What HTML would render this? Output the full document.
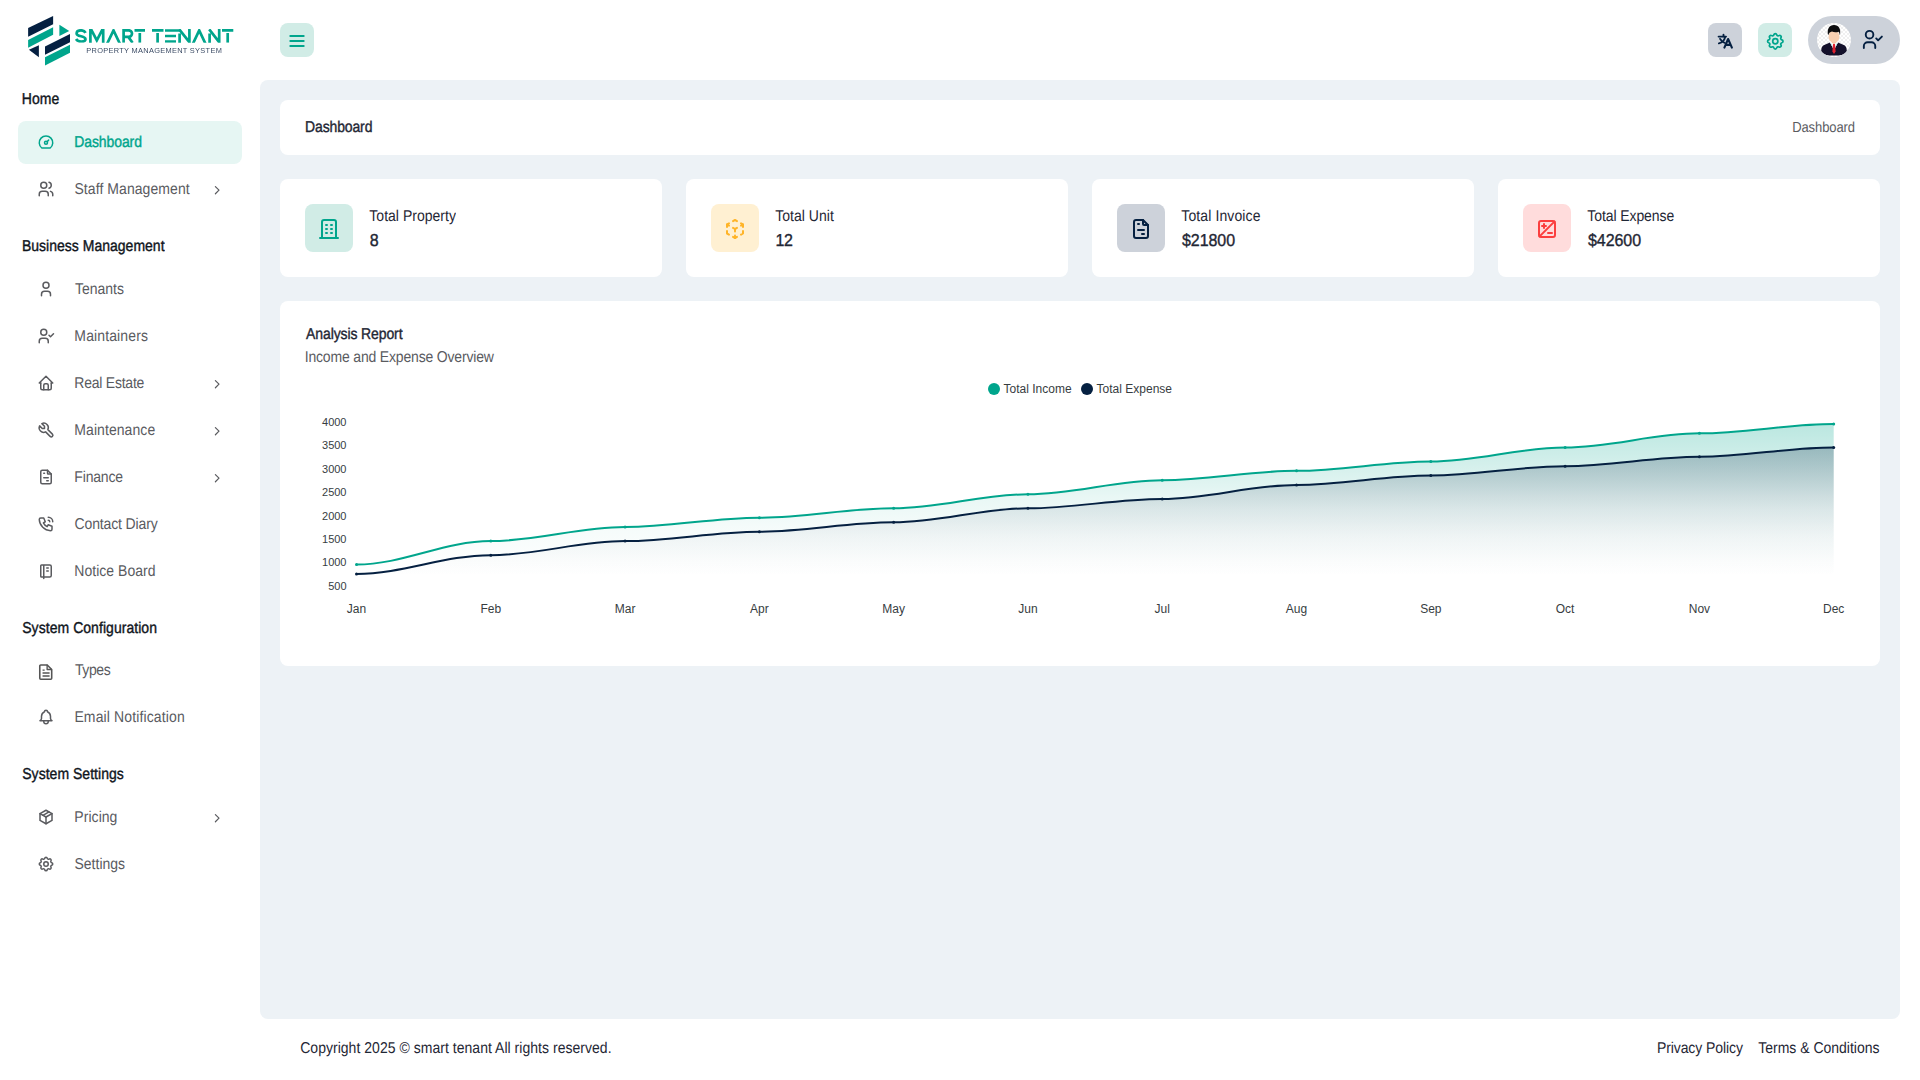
<!DOCTYPE html>
<html lang="en"><head><meta charset="utf-8"><title>Dashboard - Smart Tenant</title>
<style>
*{box-sizing:border-box;margin:0;padding:0}
html,body{width:1920px;height:1080px;overflow:hidden;background:#fff}
body{font-family:"Liberation Sans",sans-serif;font-size:14px;color:#1f2735;position:relative;-webkit-font-smoothing:antialiased}
a{text-decoration:none;color:inherit}
h1,h2,h3,p{font-weight:normal;font-size:inherit}
.abs{position:absolute}
.t{position:absolute;white-space:nowrap;line-height:1;text-rendering:geometricPrecision}
.med{-webkit-text-stroke:0.35px currentColor}
.sidebar{position:absolute;left:0;top:0;width:260px;height:1080px;background:#fff}
.sec{color:#10151c}
.item{position:absolute;left:18px;width:224px;height:43px;border-radius:8px;color:#5a5b5f}
.item.active{background:#e6f6f3;color:#00a58c}
.item svg.ic{position:absolute;left:19.3px;top:12.2px;width:18px;height:18px;overflow:visible}
.item svg.chev{position:absolute;left:191.7px;top:14.8px;width:14.4px;height:14.4px}
.header{position:absolute;left:260px;top:0;width:1660px;height:80px;background:#fff}
.hbtn{position:absolute;top:23px;width:34px;height:34px;border-radius:8px}
.panel{position:absolute;left:260px;top:80px;width:1640px;height:939px;background:#edf2f6;border-radius:8px}
.box{position:absolute;background:#fff;border-radius:8px}
.ibox{position:absolute;left:25px;top:25px;width:48px;height:48px;border-radius:8px}
.footer{position:absolute;left:260px;top:1019px;width:1660px;height:61px;background:#fff;color:#1f2735}
</style></head>
<body>
<aside class="sidebar">
<svg class="abs" style="left:0;top:0;width:260px;height:80px" viewBox="0 0 260 80" aria-label="Smart Tenant">
<g fill="#052041">
<path d="M28.1 28.1L53.1 16v8.2L28.1 36.7z"/>
<path d="M28.9 49.7l10-4.4v11.9z"/>
<path d="M45 46.4l25-12.5v8.3L45 54.7z"/>
</g>
<g fill="#00a58c">
<path d="M28.1 40L53.1 27.2v7.5L28.1 47.8z"/>
<path d="M59.4 24.7l9.8 6.4-9.8 5z"/>
<path d="M45 57.2l25-12.5v8.1L45 65.6z"/>
</g>
<defs><clipPath id="wm"><rect x="70" y="29" width="170" height="13.8"/></clipPath></defs>
<g fill="none" stroke="#00a58c" stroke-width="2.7" stroke-linejoin="miter" stroke-miterlimit="6" clip-path="url(#wm)">
<path d="M85.6 32.9C84.8 31.2 83.2 30.3 81 30.3 78.300 30.3 76.600 31.600 76.600 33.400 76.600 37.300 85.500 35.300 85.500 39.200 85.500 40.800 83.700 41.500 81.100 41.500 78.800 41.500 77.100 40.700 76.100 39"/>
<path d="M90.400 44V28L96.800 40.400L103.200 28V44"/>
<path d="M107 44L113.500 30.400L120 44"/>
<path d="M123.6 42.8V30.3H128.700A3.300 3.300 0 0 1 128.700 36.900H123.600M128.300 36.900L132.600 42.800"/>
<path d="M134.500 30.400H145M139.800 33V42.800"/>
<path d="M152 30.400H163.500M157.600 33V42.800"/>
<path d="M165 30.500H180.500M165 36H176M165 41.500H176"/>
<path d="M179.600 33.500V44M179.200 29.300L189.400 42.200M189.400 28V44"/>
<path d="M192.800 44L199.200 30.400L205.600 44"/>
<path d="M209.600 33.500V44M209.200 29.300L219.200 42.200M219.200 28V44"/>
<path d="M222 30.400H233.300M227.700 33V42.800"/>
</g>
<text style="will-change:transform" x="86.300" y="52.700" font-family="Liberation Sans, sans-serif" font-size="7.400" fill="#1d2f4d" opacity="0.9" textLength="135.500" lengthAdjust="spacing">PROPERTY MANAGEMENT SYSTEM</text>
</svg>

<nav>
<div id="sec_home" class="t med sec" style="left:21.76px;top:92.00px;font-size:14px;color:#10151c;transform:scaleY(1.120);transform-origin:0 12px;letter-spacing:0.047px;">Home</div>
<a class="item active" style="top:121px"><svg class="ic" viewBox="0 0 24 24" fill="none" stroke="currentColor" stroke-width="2" stroke-linecap="round" stroke-linejoin="round" ><path d="M12 13m-2 0a2 2 0 1 0 4 0a2 2 0 1 0 -4 0"/><path d="M13.45 11.55l2.05 -2.05"/><path d="M6.4 20a9 9 0 1 1 11.2 0z"/></svg><span id="m_dash" class="t med" style="left:56.27px;top:14.00px;font-size:14px;color:#00a58c;transform:scaleY(1.120);transform-origin:0 12px;letter-spacing:-0.099px;">Dashboard</span></a>
<a class="item" style="top:168px"><svg class="ic" viewBox="0 0 24 24" fill="none" stroke="currentColor" stroke-width="2" stroke-linecap="round" stroke-linejoin="round" ><path d="M9 7m-4 0a4 4 0 1 0 8 0a4 4 0 1 0 -8 0"/><path d="M3 21v-2a4 4 0 0 1 4 -4h4a4 4 0 0 1 4 4v2"/><path d="M16 3.130a4 4 0 0 1 0 7.750"/><path d="M21 21v-2a4 4 0 0 0 -3 -3.850"/></svg><span id="m_staff" class="t " style="left:56.47px;top:14.00px;font-size:14px;color:#5a5b5f;transform:scaleY(1.120);transform-origin:0 12px;letter-spacing:0.067px;">Staff Management</span><svg class="chev" viewBox="0 0 24 24" fill="none" stroke="currentColor" stroke-width="2" stroke-linecap="round" stroke-linejoin="round" ><path d="M9 6l6 6l-6 6"/></svg></a>
<div id="sec_bus" class="t med sec" style="left:21.97px;top:239.00px;font-size:14px;color:#10151c;transform:scaleY(1.120);transform-origin:0 12px;letter-spacing:0.008px;">Business Management</div>
<a class="item" style="top:268px"><svg class="ic" viewBox="0 0 24 24" fill="none" stroke="currentColor" stroke-width="2" stroke-linecap="round" stroke-linejoin="round" ><path d="M12 7m-4 0a4 4 0 1 0 8 0a4 4 0 1 0 -8 0"/><path d="M6 21v-2a4 4 0 0 1 4 -4h4a4 4 0 0 1 4 4v2"/></svg><span id="m_ten" class="t " style="left:56.90px;top:14.00px;font-size:14px;color:#5a5b5f;transform:scaleY(1.120);transform-origin:0 12px;">Tenants</span></a>
<a class="item" style="top:315px"><svg class="ic" viewBox="0 0 24 24" fill="none" stroke="currentColor" stroke-width="2" stroke-linecap="round" stroke-linejoin="round" ><path d="M9 7m-4 0a4 4 0 1 0 8 0a4 4 0 1 0 -8 0"/><path d="M3 21v-2a4 4 0 0 1 4 -4h4a4 4 0 0 1 4 4v2"/><path d="M16 11l2 2l4 -4"/></svg><span id="m_main" class="t " style="left:56.35px;top:14.00px;font-size:14px;color:#5a5b5f;transform:scaleY(1.120);transform-origin:0 12px;letter-spacing:0.120px;">Maintainers</span></a>
<a class="item" style="top:362px"><svg class="ic" viewBox="0 0 24 24" fill="none" stroke="currentColor" stroke-width="2" stroke-linecap="round" stroke-linejoin="round" ><path d="M5 12l-2 0l9 -9l9 9l-2 0"/><path d="M5 12v7a2 2 0 0 0 2 2h10a2 2 0 0 0 2 -2v-7"/><path d="M9 21v-6a2 2 0 0 1 2 -2h2a2 2 0 0 1 2 2v6"/></svg><span id="m_real" class="t " style="left:56.32px;top:14.00px;font-size:14px;color:#5a5b5f;transform:scaleY(1.120);transform-origin:0 12px;letter-spacing:-0.235px;">Real Estate</span><svg class="chev" viewBox="0 0 24 24" fill="none" stroke="currentColor" stroke-width="2" stroke-linecap="round" stroke-linejoin="round" ><path d="M9 6l6 6l-6 6"/></svg></a>
<a class="item" style="top:409px"><svg class="ic" viewBox="0 0 24 24" fill="none" stroke="currentColor" stroke-width="2" stroke-linecap="round" stroke-linejoin="round" ><path d="M7 10h3v-3l-3.500 -3.500a6 6 0 0 1 8 8l6 6a2 2 0 0 1 -3 3l-6 -6a6 6 0 0 1 -8 -8l3.500 3.500"/></svg><span id="m_mnt" class="t " style="left:56.35px;top:14.00px;font-size:14px;color:#5a5b5f;transform:scaleY(1.120);transform-origin:0 12px;letter-spacing:0.067px;">Maintenance</span><svg class="chev" viewBox="0 0 24 24" fill="none" stroke="currentColor" stroke-width="2" stroke-linecap="round" stroke-linejoin="round" ><path d="M9 6l6 6l-6 6"/></svg></a>
<a class="item" style="top:456px"><svg class="ic" viewBox="0 0 24 24" fill="none" stroke="currentColor" stroke-width="2" stroke-linecap="round" stroke-linejoin="round" ><path d="M14 3v4a1 1 0 0 0 1 1h4"/><path d="M17 21h-10a2 2 0 0 1 -2 -2v-14a2 2 0 0 1 2 -2h7l5 5v11a2 2 0 0 1 -2 2z"/><path d="M9 7l1 0"/><path d="M9 13l6 0"/><path d="M13 17l2 0"/></svg><span id="m_fin" class="t " style="left:56.35px;top:14.00px;font-size:14px;color:#5a5b5f;transform:scaleY(1.120);transform-origin:0 12px;letter-spacing:-0.183px;">Finance</span><svg class="chev" viewBox="0 0 24 24" fill="none" stroke="currentColor" stroke-width="2" stroke-linecap="round" stroke-linejoin="round" ><path d="M9 6l6 6l-6 6"/></svg></a>
<a class="item" style="top:503px"><svg class="ic" viewBox="0 0 24 24" fill="none" stroke="currentColor" stroke-width="2" stroke-linecap="round" stroke-linejoin="round" ><path d="M5 4h4l2 5l-2.500 1.500a11 11 0 0 0 5 5l1.500 -2.500l5 2v4a2 2 0 0 1 -2 2a16 16 0 0 1 -15 -15a2 2 0 0 1 2 -2"/><path d="M15 7a2 2 0 0 1 2 2"/><path d="M15 3a6 6 0 0 1 6 6"/></svg><span id="m_con" class="t " style="left:56.60px;top:14.00px;font-size:14px;color:#5a5b5f;transform:scaleY(1.120);transform-origin:0 12px;letter-spacing:-0.146px;">Contact Diary</span></a>
<a class="item" style="top:550px"><svg class="ic" viewBox="0 0 24 24" fill="none" stroke="currentColor" stroke-width="2" stroke-linecap="round" stroke-linejoin="round" ><path d="M6 4h11a2 2 0 0 1 2 2v12a2 2 0 0 1 -2 2h-11a1 1 0 0 1 -1 -1v-14a1 1 0 0 1 1 -1m3 0v18"/><path d="M13 8l2 0"/><path d="M13 12l2 0"/></svg><span id="m_not" class="t " style="left:56.36px;top:14.00px;font-size:14px;color:#5a5b5f;transform:scaleY(1.120);transform-origin:0 12px;letter-spacing:0.016px;">Notice Board</span></a>
<div id="sec_cfg" class="t med sec" style="left:22.24px;top:621.00px;font-size:14px;color:#10151c;transform:scaleY(1.120);transform-origin:0 12px;letter-spacing:0.047px;">System Configuration</div>
<a class="item" style="top:649px"><svg class="ic" viewBox="0 0 24 24" fill="none" stroke="currentColor" stroke-width="2" stroke-linecap="round" stroke-linejoin="round" style="left:19.3px;top:14.4px"><g stroke="#555" stroke-width="2.100" stroke-linejoin="round"><path d="M5 2.600h8.600l6 6v11.800a1.300 1.300 0 0 1 -1.300 1.300h-13.300a1.300 1.300 0 0 1 -1.300 -1.300v-16.500a1.300 1.300 0 0 1 1.300 -1.300z"/><path d="M13.500 3v5.700h5.700" stroke-width="1.800"/><path d="M7.400 13.300h9.400M7.400 17.300h9.400M7.400 9.500h2.800" stroke-width="1.800" stroke-linecap="butt"/></g></svg><span id="m_typ" class="t " style="left:56.90px;top:14.00px;font-size:14px;color:#5a5b5f;transform:scaleY(1.120);transform-origin:0 12px;letter-spacing:-0.395px;">Types</span></a>
<a class="item" style="top:696px"><svg class="ic" viewBox="0 0 24 24" fill="none" stroke="currentColor" stroke-width="2" stroke-linecap="round" stroke-linejoin="round" ><path d="M10 5a2 2 0 1 1 4 0a7 7 0 0 1 4 6v3a4 4 0 0 0 2 3h-16a4 4 0 0 0 2 -3v-3a7 7 0 0 1 4 -6"/><path d="M9 17v1a3 3 0 0 0 6 0v-1"/></svg><span id="m_eml" class="t " style="left:56.39px;top:14.00px;font-size:14px;color:#5a5b5f;transform:scaleY(1.120);transform-origin:0 12px;letter-spacing:0.127px;">Email Notification</span></a>
<div id="sec_set" class="t med sec" style="left:22.24px;top:767.00px;font-size:14px;color:#10151c;transform:scaleY(1.120);transform-origin:0 12px;letter-spacing:0.027px;">System Settings</div>
<a class="item" style="top:796px"><svg class="ic" viewBox="0 0 24 24" fill="none" stroke="currentColor" stroke-width="2" stroke-linecap="round" stroke-linejoin="round" ><path d="M12 3l8 4.500l0 9l-8 4.500l-8 -4.500l0 -9l8 -4.500"/><path d="M12 12l8 -4.500"/><path d="M12 12l0 9"/><path d="M12 12l-8 -4.500"/><path d="M16 5.250l-8 4.500"/></svg><span id="m_pri" class="t " style="left:56.35px;top:14.00px;font-size:14px;color:#5a5b5f;transform:scaleY(1.120);transform-origin:0 12px;letter-spacing:0.044px;">Pricing</span><svg class="chev" viewBox="0 0 24 24" fill="none" stroke="currentColor" stroke-width="2" stroke-linecap="round" stroke-linejoin="round" ><path d="M9 6l6 6l-6 6"/></svg></a>
<a class="item" style="top:843px"><svg class="ic" viewBox="0 0 24 24" fill="none" stroke="currentColor" stroke-width="2" stroke-linecap="round" stroke-linejoin="round" ><path d="M10.325 4.317c.426 -1.756 2.924 -1.756 3.350 0a1.724 1.724 0 0 0 2.573 1.066c1.543 -.940 3.310 .826 2.370 2.370a1.724 1.724 0 0 0 1.065 2.572c1.756 .426 1.756 2.924 0 3.350a1.724 1.724 0 0 0 -1.066 2.573c.940 1.543 -.826 3.310 -2.370 2.370a1.724 1.724 0 0 0 -2.572 1.065c-.426 1.756 -2.924 1.756 -3.350 0a1.724 1.724 0 0 0 -2.573 -1.066c-1.543 .940 -3.310 -.826 -2.370 -2.370a1.724 1.724 0 0 0 -1.065 -2.572c-1.756 -.426 -1.756 -2.924 0 -3.350a1.724 1.724 0 0 0 1.066 -2.573c-.940 -1.543 .826 -3.310 2.370 -2.370c1 .608 2.296 .070 2.572 -1.065z"/><path d="M9 12a3 3 0 1 0 6 0a3 3 0 0 0 -6 0"/></svg><span id="m_stg" class="t " style="left:56.47px;top:14.00px;font-size:14px;color:#5a5b5f;transform:scaleY(1.120);transform-origin:0 12px;letter-spacing:0.002px;">Settings</span></a>
</nav></aside>
<header class="header">
<div class="hbtn" style="left:20px;background:#d1ece6;color:#00a58c"><svg class="abs" viewBox="0 0 24 24" fill="none" stroke="currentColor" stroke-width="2.4" stroke-linecap="round" stroke-linejoin="round" style="left:7.450px;top:8.050px;width:20px;height:20px"><path d="M4 6l16 0"/><path d="M4 12l16 0"/><path d="M4 18l16 0"/></svg></div>
<div class="hbtn" style="left:1448px;background:#cdd2da;color:#052041"><svg class="abs" style="left:0;top:0;width:34px;height:34px" viewBox="0 0 34 34"><g fill="none" stroke="currentColor" stroke-width="1.9" stroke-linecap="round" stroke-linejoin="round"><path d="M10.600 13.600H18"/><path d="M15.500 11.700V13.400"/><path d="M17.200 13.900C16.500 17.100 14.200 19.500 10.900 20.400"/><path d="M12.100 15.900C13 17.700 14.700 19.100 16.700 19.800"/><path d="M16.400 24.600L20.100 16L23.900 24.600M17.900 21.900H22.300" stroke-width="2.100"/></g></svg></div>
<div class="hbtn" style="left:1498px;background:#d1ece6;color:#00a58c"><svg class="abs" viewBox="0 0 24 24" fill="none" stroke="currentColor" stroke-width="2" stroke-linecap="round" stroke-linejoin="round" style="left:7.100px;top:7.500px;width:20.600px;height:20.600px"><path d="M10.325 4.317c.426 -1.756 2.924 -1.756 3.350 0a1.724 1.724 0 0 0 2.573 1.066c1.543 -.940 3.310 .826 2.370 2.370a1.724 1.724 0 0 0 1.065 2.572c1.756 .426 1.756 2.924 0 3.350a1.724 1.724 0 0 0 -1.066 2.573c.940 1.543 -.826 3.310 -2.370 2.370a1.724 1.724 0 0 0 -2.572 1.065c-.426 1.756 -2.924 1.756 -3.350 0a1.724 1.724 0 0 0 -2.573 -1.066c-1.543 .940 -3.310 -.826 -2.370 -2.370a1.724 1.724 0 0 0 -1.065 -2.572c-1.756 -.426 -1.756 -2.924 0 -3.350a1.724 1.724 0 0 0 1.066 -2.573c-.940 -1.543 .826 -3.310 2.370 -2.370c1 .608 2.296 .070 2.572 -1.065z"/><path d="M9 12a3 3 0 1 0 6 0a3 3 0 0 0 -6 0"/></svg></div>
<div class="abs" style="left:1548px;top:16px;width:92px;height:48px;border-radius:24px;background:#cdd2da;color:#052041">
<svg class="abs" style="left:9px;top:7px;width:34px;height:34px" viewBox="0 0 34 34">
<defs><clipPath id="avc"><circle cx="17" cy="17" r="17"/></clipPath>
<pattern id="chk" width="4" height="4" patternUnits="userSpaceOnUse"><rect width="4" height="4" fill="#fff"/><rect width="2" height="2" fill="#f0f0f0"/><rect x="2" y="2" width="2" height="2" fill="#f0f0f0"/></pattern></defs>
<g clip-path="url(#avc)">
<rect width="34" height="34" fill="url(#chk)"/>
<path d="M13 19.600L7.200 22C5.200 22.800 4.400 24.500 4.200 27.500C4.100 30.200 8 32.400 12.500 32.400H21.500C26 32.400 29.900 30.200 29.800 27.500C29.600 24.500 28.800 22.800 26.800 22L21 19.600L17 27Z" fill="#14112b"/>
<path d="M13 19.500L16.900 26.800L20.900 19.500L17 18Z" fill="#fff"/>
<path d="M13 19.500L14.300 20.700L16.300 25.700ZM20.900 19.500L19.600 20.700L17.600 25.700Z" fill="#7fd6dc"/>
<path d="M16 20.900H18L18.600 28.600L17 30.900L15.400 28.600Z" fill="#e0212f"/>
<path d="M14.600 16H19.400V19.600L17 21.200L14.600 19.600Z" fill="#f1c3a2"/>
<ellipse cx="17" cy="13.600" rx="5.450" ry="6.200" fill="#f8cfb0"/>
<path d="M11.100 12.300C9.700 6 12.400 2 17 2C21.700 2 24.300 6 22.900 12.300C22.600 10.300 22.200 9.300 21.500 8.700C19.300 9.600 16.500 9.300 15 8.400C13.200 8.900 12 9.600 11.100 12.300Z" fill="#0c0c0e"/>
</g></svg>

<svg class="abs" viewBox="0 0 24 24" fill="none" stroke="currentColor" stroke-width="2" stroke-linecap="round" stroke-linejoin="round" style="left:53.050px;top:11.850px;width:22.800px;height:22.800px"><path d="M9 7m-4 0a4 4 0 1 0 8 0a4 4 0 1 0 -8 0"/><path d="M3 21v-2a4 4 0 0 1 4 -4h4a4 4 0 0 1 4 4v2"/><path d="M16 11l2 2l4 -4"/></svg>
</div></header>
<main class="panel">
<section class="box" style="left:20px;top:20px;width:1600px;height:55px"><h1 id="title" class="t med" style="left:25.05px;top:20.00px;font-size:14px;color:#1f2735;transform:scaleY(1.120);transform-origin:0 12px;letter-spacing:-0.139px;">Dashboard</h1><span id="crumb" class="t " style="left:1512.18px;top:21.00px;font-size:13px;color:#5a5b5f;transform:scaleY(1.120);transform-origin:0 11px;letter-spacing:-0.085px;">Dashboard</span></section>
<section class="box" style="left:20px;top:99px;width:382px;height:98px"><div class="ibox" style="background:#d1ece6;color:#00a58c"><svg class="abs" viewBox="0 0 24 24" fill="none" stroke="currentColor" stroke-width="2" stroke-linecap="round" stroke-linejoin="round" style="left:12px;top:13px;width:24px;height:24px"><path d="M3 21l18 0"/><path d="M9 8l1 0"/><path d="M9 12l1 0"/><path d="M9 16l1 0"/><path d="M14 8l1 0"/><path d="M14 12l1 0"/><path d="M14 16l1 0"/><path d="M5 21v-16a2 2 0 0 1 2 -2h10a2 2 0 0 1 2 2v16"/></svg></div><p id="c1_l" class="t " style="left:89.32px;top:30.00px;font-size:14px;color:#1f2735;transform:scaleY(1.120);transform-origin:0 12px;letter-spacing:0.022px;">Total Property</p><h2 id="c1_v" class="t med" style="left:89.63px;top:55.00px;font-size:16px;color:#1f2735;transform:scaleY(1.080);transform-origin:0 13px;letter-spacing:-4.759px;">8</h2></section>
<section class="box" style="left:426px;top:99px;width:382px;height:98px"><div class="ibox" style="background:#fff0d2;color:#ffb428"><svg class="abs" viewBox="0 0 24 24" fill="none" stroke="currentColor" stroke-width="2" stroke-linecap="round" stroke-linejoin="round" style="left:12px;top:13px;width:24px;height:24px"><path d="M6 17.600l-2 -1.100v-2.500"/><path d="M4 10v-2.500l2 -1.100"/><path d="M10 4.100l2 -1.100l2 1.100"/><path d="M18 6.400l2 1.100v2.500"/><path d="M20 14v2.500l-2 1.120"/><path d="M14 19.900l-2 1.100l-2 -1.100"/><path d="M12 12l2 -1.100"/><path d="M18 8.600l2 -1.100"/><path d="M12 12l0 2.500"/><path d="M12 18.500l0 2.500"/><path d="M12 12l-2 -1.120"/><path d="M6 8.600l-2 -1.100"/></svg></div><p id="c2_l" class="t " style="left:89.32px;top:30.00px;font-size:14px;color:#1f2735;transform:scaleY(1.120);transform-origin:0 12px;letter-spacing:0.013px;">Total Unit</p><h2 id="c2_v" class="t med" style="left:89.46px;top:55.00px;font-size:16px;color:#1f2735;transform:scaleY(1.080);transform-origin:0 13px;letter-spacing:-0.323px;">12</h2></section>
<section class="box" style="left:832px;top:99px;width:382px;height:98px"><div class="ibox" style="background:#cdd2da;color:#052041"><svg class="abs" viewBox="0 0 24 24" fill="none" stroke="currentColor" stroke-width="2" stroke-linecap="round" stroke-linejoin="round" style="left:12px;top:13px;width:24px;height:24px"><path d="M14 3v4a1 1 0 0 0 1 1h4"/><path d="M17 21h-10a2 2 0 0 1 -2 -2v-14a2 2 0 0 1 2 -2h7l5 5v11a2 2 0 0 1 -2 2z"/><path d="M9 7l1 0"/><path d="M9 13l6 0"/><path d="M13 17l2 0"/></svg></div><p id="c3_l" class="t " style="left:89.32px;top:30.00px;font-size:14px;color:#1f2735;transform:scaleY(1.120);transform-origin:0 12px;letter-spacing:0.109px;">Total Invoice</p><h2 id="c3_v" class="t med" style="left:89.96px;top:55.00px;font-size:16px;color:#1f2735;transform:scaleY(1.080);transform-origin:0 13px;letter-spacing:-0.059px;">$21800</h2></section>
<section class="box" style="left:1238px;top:99px;width:382px;height:98px"><div class="ibox" style="background:#ffdcdc;color:#fb3f3f"><svg class="abs" viewBox="0 0 24 24" fill="none" stroke="currentColor" stroke-width="2" stroke-linecap="round" stroke-linejoin="round" style="left:12px;top:13px;width:24px;height:24px"><path d="M4 6a2 2 0 0 1 2 -2h12a2 2 0 0 1 2 2v12a2 2 0 0 1 -2 2h-12a2 2 0 0 1 -2 -2z"/><path d="M4.600 19.400l14.800 -14.800"/><path d="M7 9h4m-2 -2v4"/><path d="M13 16l4 0"/></svg></div><p id="c4_l" class="t " style="left:89.32px;top:30.00px;font-size:14px;color:#1f2735;transform:scaleY(1.120);transform-origin:0 12px;letter-spacing:-0.087px;">Total Expense</p><h2 id="c4_v" class="t med" style="left:89.96px;top:55.00px;font-size:16px;color:#1f2735;transform:scaleY(1.080);transform-origin:0 13px;letter-spacing:-0.059px;">$42600</h2></section>
<section class="box" style="left:20px;top:221px;width:1600px;height:365px"><h2 id="ch_t" class="t med" style="left:26.08px;top:26.00px;font-size:14px;color:#1f2735;transform:scaleY(1.120);transform-origin:0 12px;letter-spacing:-0.112px;">Analysis Report</h2><p id="ch_s" class="t " style="left:24.69px;top:49.00px;font-size:14px;color:#5a5b5f;transform:scaleY(1.120);transform-origin:0 12px;letter-spacing:-0.174px;">Income and Expense Overview</p><svg class="abs" style="left:0;top:0;width:1600px;height:365px" viewBox="280 301 1600 365" font-family="Liberation Sans, sans-serif" text-rendering="auto">
<defs>
<linearGradient id="gi" x1="0" y1="0" x2="0" y2="1"><stop offset="0" stop-color="#00a58c" stop-opacity="0.2700"/><stop offset="0.45" stop-color="#00a58c" stop-opacity="0.0891"/><stop offset="0.65" stop-color="#00a58c" stop-opacity="0.0378"/><stop offset="0.83" stop-color="#00a58c" stop-opacity="0.0108"/><stop offset="0.94" stop-color="#00a58c" stop-opacity="0.0000"/></linearGradient>
<linearGradient id="ge" x1="0" y1="0" x2="0" y2="1"><stop offset="0" stop-color="#052041" stop-opacity="0.2500"/><stop offset="0.45" stop-color="#052041" stop-opacity="0.0825"/><stop offset="0.65" stop-color="#052041" stop-opacity="0.0350"/><stop offset="0.83" stop-color="#052041" stop-opacity="0.0100"/><stop offset="0.94" stop-color="#052041" stop-opacity="0.0000"/></linearGradient>
</defs>
<circle cx="994" cy="389" r="6" fill="#00a58c"/><text x="1003.6" y="392.9" font-size="12" fill="#373d3f">Total Income</text>
<circle cx="1087" cy="389" r="6" fill="#052041"/><text x="1096.6" y="392.9" font-size="12" fill="#373d3f">Total Expense</text>
<text x="346.5" y="425.96" font-size="11" text-anchor="end" fill="#373d3f">4000</text>
<text x="346.5" y="449.38" font-size="11" text-anchor="end" fill="#373d3f">3500</text>
<text x="346.5" y="472.80" font-size="11" text-anchor="end" fill="#373d3f">3000</text>
<text x="346.5" y="496.22" font-size="11" text-anchor="end" fill="#373d3f">2500</text>
<text x="346.5" y="519.64" font-size="11" text-anchor="end" fill="#373d3f">2000</text>
<text x="346.5" y="543.06" font-size="11" text-anchor="end" fill="#373d3f">1500</text>
<text x="346.5" y="566.48" font-size="11" text-anchor="end" fill="#373d3f">1000</text>
<text x="346.5" y="589.90" font-size="11" text-anchor="end" fill="#373d3f">500</text>
<text x="356.50" y="613" font-size="12" text-anchor="middle" fill="#373d3f">Jan</text>
<text x="490.79" y="613" font-size="12" text-anchor="middle" fill="#373d3f">Feb</text>
<text x="625.08" y="613" font-size="12" text-anchor="middle" fill="#373d3f">Mar</text>
<text x="759.37" y="613" font-size="12" text-anchor="middle" fill="#373d3f">Apr</text>
<text x="893.66" y="613" font-size="12" text-anchor="middle" fill="#373d3f">May</text>
<text x="1027.95" y="613" font-size="12" text-anchor="middle" fill="#373d3f">Jun</text>
<text x="1162.25" y="613" font-size="12" text-anchor="middle" fill="#373d3f">Jul</text>
<text x="1296.54" y="613" font-size="12" text-anchor="middle" fill="#373d3f">Aug</text>
<text x="1430.83" y="613" font-size="12" text-anchor="middle" fill="#373d3f">Sep</text>
<text x="1565.12" y="613" font-size="12" text-anchor="middle" fill="#373d3f">Oct</text>
<text x="1699.41" y="613" font-size="12" text-anchor="middle" fill="#373d3f">Nov</text>
<text x="1833.70" y="613" font-size="12" text-anchor="middle" fill="#373d3f">Dec</text>
<path d="M356.50 564.52C403.50 564.52 443.79 541.10 490.79 541.10C537.79 541.10 578.08 527.05 625.08 527.05C672.08 527.05 712.37 517.68 759.37 517.68C806.37 517.68 846.66 508.31 893.66 508.31C940.67 508.31 980.95 494.26 1027.95 494.26C1074.96 494.26 1115.24 480.21 1162.25 480.21C1209.25 480.21 1249.53 470.84 1296.54 470.84C1343.54 470.84 1383.83 461.47 1430.83 461.47C1477.83 461.47 1518.12 447.42 1565.12 447.42C1612.12 447.42 1652.41 433.37 1699.41 433.37C1746.41 433.37 1786.70 424.00 1833.70 424.00L1833.70 585.60L356.50 585.60Z" fill="url(#gi)"/>
<path d="M356.50 573.89C403.50 573.89 443.79 555.15 490.79 555.15C537.79 555.15 578.08 541.10 625.08 541.10C672.08 541.10 712.37 531.73 759.37 531.73C806.37 531.73 846.66 522.37 893.66 522.37C940.67 522.37 980.95 508.31 1027.95 508.31C1074.96 508.31 1115.24 498.95 1162.25 498.95C1209.25 498.95 1249.53 484.89 1296.54 484.89C1343.54 484.89 1383.83 475.53 1430.83 475.53C1477.83 475.53 1518.12 466.16 1565.12 466.16C1612.12 466.16 1652.41 456.79 1699.41 456.79C1746.41 456.79 1786.70 447.42 1833.70 447.42L1833.70 585.60L356.50 585.60Z" fill="url(#ge)"/>
<path d="M356.50 564.52C403.50 564.52 443.79 541.10 490.79 541.10C537.79 541.10 578.08 527.05 625.08 527.05C672.08 527.05 712.37 517.68 759.37 517.68C806.37 517.68 846.66 508.31 893.66 508.31C940.67 508.31 980.95 494.26 1027.95 494.26C1074.96 494.26 1115.24 480.21 1162.25 480.21C1209.25 480.21 1249.53 470.84 1296.54 470.84C1343.54 470.84 1383.83 461.47 1430.83 461.47C1477.83 461.47 1518.12 447.42 1565.12 447.42C1612.12 447.42 1652.41 433.37 1699.41 433.37C1746.41 433.37 1786.70 424.00 1833.70 424.00" fill="none" stroke="#00a58c" stroke-width="2"/>
<path d="M356.50 573.89C403.50 573.89 443.79 555.15 490.79 555.15C537.79 555.15 578.08 541.10 625.08 541.10C672.08 541.10 712.37 531.73 759.37 531.73C806.37 531.73 846.66 522.37 893.66 522.37C940.67 522.37 980.95 508.31 1027.95 508.31C1074.96 508.31 1115.24 498.95 1162.25 498.95C1209.25 498.95 1249.53 484.89 1296.54 484.89C1343.54 484.89 1383.83 475.53 1430.83 475.53C1477.83 475.53 1518.12 466.16 1565.12 466.16C1612.12 466.16 1652.41 456.79 1699.41 456.79C1746.41 456.79 1786.70 447.42 1833.70 447.42" fill="none" stroke="#052041" stroke-width="2"/>
<g fill="#00a58c"><circle cx="356.50" cy="564.52" r="1.5"/><circle cx="490.79" cy="541.10" r="1.5"/><circle cx="625.08" cy="527.05" r="1.5"/><circle cx="759.37" cy="517.68" r="1.5"/><circle cx="893.66" cy="508.31" r="1.5"/><circle cx="1027.95" cy="494.26" r="1.5"/><circle cx="1162.25" cy="480.21" r="1.5"/><circle cx="1296.54" cy="470.84" r="1.5"/><circle cx="1430.83" cy="461.47" r="1.5"/><circle cx="1565.12" cy="447.42" r="1.5"/><circle cx="1699.41" cy="433.37" r="1.5"/><circle cx="1833.70" cy="424.00" r="1.5"/></g>
<g fill="#052041"><circle cx="356.50" cy="573.89" r="1.5"/><circle cx="490.79" cy="555.15" r="1.5"/><circle cx="625.08" cy="541.10" r="1.5"/><circle cx="759.37" cy="531.73" r="1.5"/><circle cx="893.66" cy="522.37" r="1.5"/><circle cx="1027.95" cy="508.31" r="1.5"/><circle cx="1162.25" cy="498.95" r="1.5"/><circle cx="1296.54" cy="484.89" r="1.5"/><circle cx="1430.83" cy="475.53" r="1.5"/><circle cx="1565.12" cy="466.16" r="1.5"/><circle cx="1699.41" cy="456.79" r="1.5"/><circle cx="1833.70" cy="447.42" r="1.5"/></g>
</svg></section>
</main>
<footer class="footer"><p id="f_copy" class="t " style="left:40.18px;top:22.00px;font-size:14px;color:#1f2735;transform:scaleY(1.120);transform-origin:0 12px;letter-spacing:0.030px;">Copyright 2025 © smart tenant All rights reserved.</p><a id="f_pp" class="t " style="left:1396.88px;top:22.00px;font-size:14px;color:#1f2735;transform:scaleY(1.120);transform-origin:0 12px;letter-spacing:-0.080px;">Privacy Policy</a><a id="f_tc" class="t " style="left:1498.32px;top:22.00px;font-size:14px;color:#1f2735;transform:scaleY(1.120);transform-origin:0 12px;letter-spacing:-0.016px;">Terms &amp; Conditions</a></footer>
</body></html>
